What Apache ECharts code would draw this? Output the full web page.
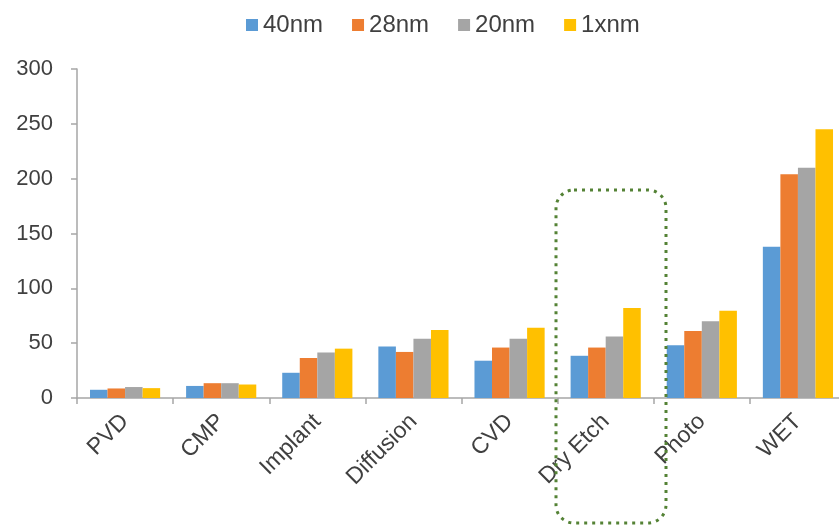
<!DOCTYPE html>
<html>
<head>
<meta charset="utf-8">
<script src="https://cdn.jsdelivr.net/npm/echarts@6/dist/echarts.min.js"></script>
<style>html,body{margin:0;padding:0;background:#fff;overflow:hidden;}#c{width:846px;height:525px;}</style>
</head>
<body>
<div id="c"></div>
<script>
var categories = ['PVD', 'CMP', 'Implant', 'Diffusion', 'CVD', 'Dry Etch', 'Photo', 'WET'];
var seriesNames = ['40nm', '28nm', '20nm', '1xnm'];
var s40nm = [7.5, 11, 23, 47, 34, 38.5, 48, 138];
var s28nm = [8.7, 13.5, 36.5, 42, 46, 46, 61, 204];
var s20nm = [10, 13.5, 41.5, 54, 54, 56, 70, 210];
var s1xnm = [9, 12.3, 45, 62, 64, 82, 79.5, 245];
var yTicks = [0, 50, 100, 150, 200, 250, 300];

var colors = ['#5B9BD5', '#ED7D31', '#A5A5A5', '#FFC000'];
var values = [s40nm, s28nm, s20nm, s1xnm];
var font = 'Liberation Sans, Arial, sans-serif';

var chart = echarts.init(document.getElementById('c'));
chart.setOption({
  animation: false,
  color: colors,
  textStyle: { fontFamily: font },
  legend: {
    top: 8,
    left: 241,
    icon: 'rect',
    itemWidth: 12,
    itemHeight: 12,
    itemGap: 29,
    textStyle: { fontSize: 24, color: '#404040', fontFamily: font }
  },
  grid: { left: 77, right: 0, top: 69, bottom: 127, containLabel: false },
  xAxis: {
    type: 'category',
    data: categories,
    axisLine: { lineStyle: { color: '#A6A6A6', width: 1.5 } },
    axisTick: { show: true, length: 6, alignWithLabel: false, lineStyle: { color: '#A6A6A6', width: 1.5 } },
    axisLabel: { rotate: 45, fontSize: 23, color: '#404040', margin: 20, fontFamily: font }
  },
  yAxis: {
    type: 'value',
    min: yTicks[0],
    max: yTicks[yTicks.length - 1],
    interval: 50,
    splitLine: { show: false },
    axisLine: { show: true, lineStyle: { color: '#A6A6A6', width: 1.5 } },
    axisTick: { show: true, length: 6, lineStyle: { color: '#A6A6A6', width: 1.5 } },
    axisLabel: { fontSize: 22, color: '#404040', margin: 24, fontFamily: font }
  },
  series: seriesNames.map(function (n, i) {
    return {
      name: n,
      type: 'bar',
      data: values[i],
      barGap: '0%',
      barCategoryGap: '27%'
    };
  }),
  graphic: [{
    type: 'rect',
    z: 100,
    shape: { x: 556, y: 190, width: 110, height: 333, r: 18 },
    style: { fill: 'none', stroke: '#548235', lineWidth: 3, lineDash: [3, 5] }
  }]
});
</script>
</body>
</html>
